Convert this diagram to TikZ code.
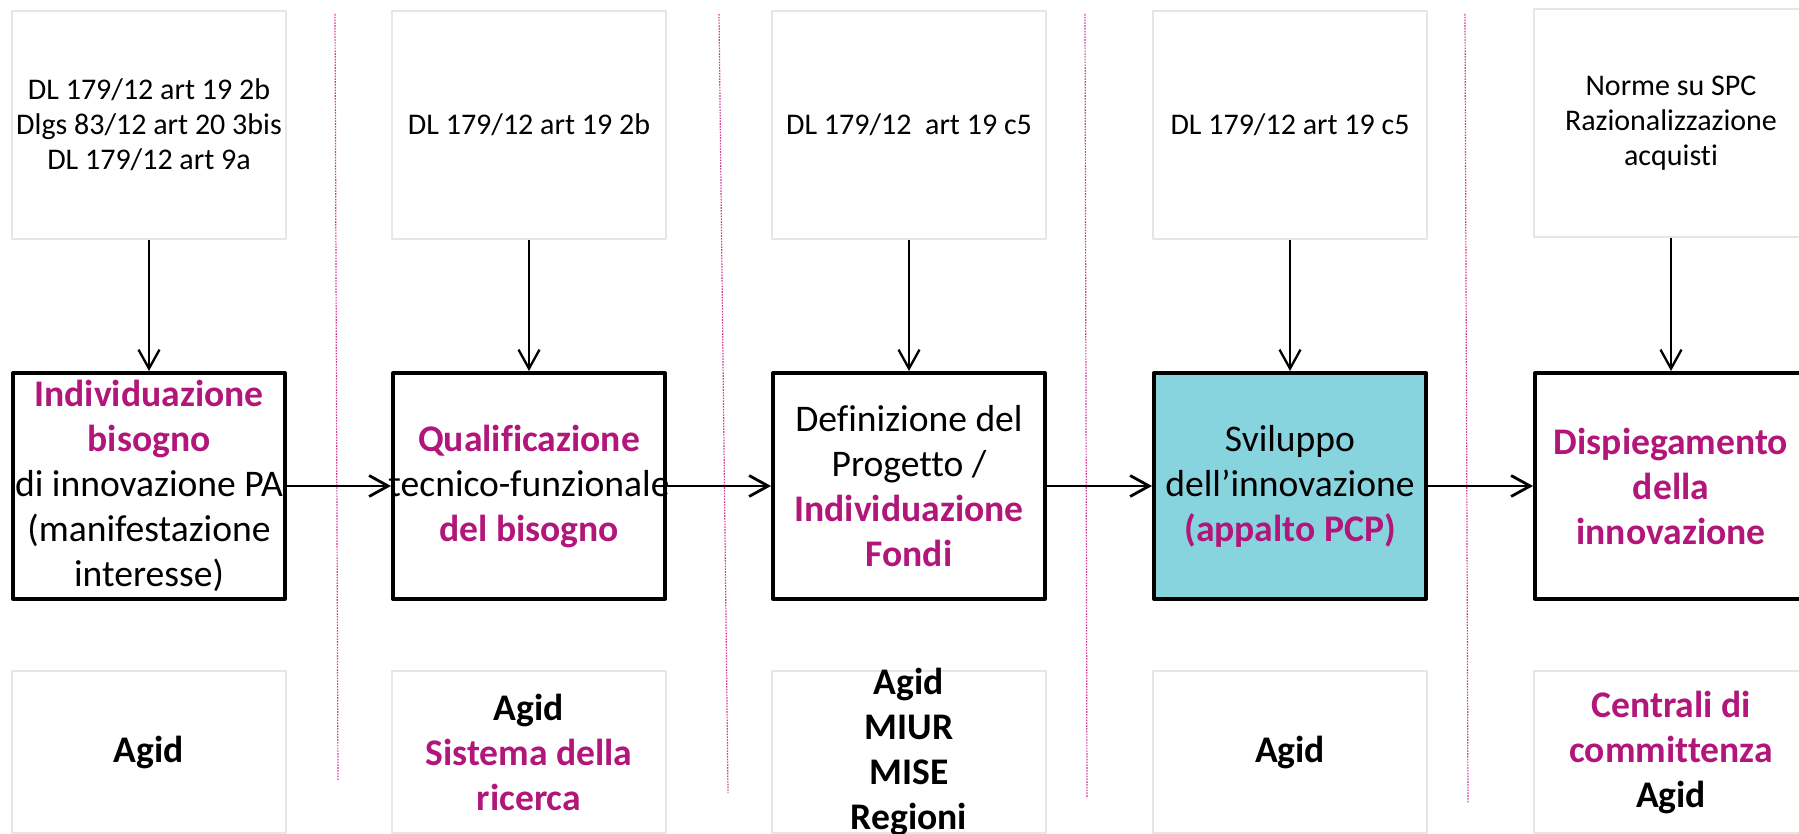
\documentclass[tikz,border=0pt]{standalone}
\usepackage{fontspec}
\setmainfont{Carlito}[Ligatures=NoCommon]
\usetikzlibrary{arrows.meta}
\definecolor{accent}{RGB}{178,22,122}
\definecolor{sky}{RGB}{135,212,222}
\definecolor{faint}{RGB}{230,230,230}
\definecolor{sepcol}{RGB}{214,60,150}
\newcommand{\evid}[1]{\textcolor{accent}{\textbf{#1}}}
\tikzset{
  normbox/.style={draw=faint, line width=0.6pt, minimum width=137pt, minimum height=114pt, inner sep=0pt},
  fasebox/.style={draw=black, line width=2pt, fill=white, minimum width=136pt, minimum height=113pt, inner sep=0pt},
  entebox/.style={draw=faint, line width=0.6pt, minimum width=137pt, minimum height=81pt, inner sep=0pt},
  smalltxt/.style={align=center, font=\fontsize{15}{17.5}\selectfont},
  bigtxt/.style={align=center, font=\fontsize{18.8}{22.5}\selectfont},
  divider/.style={draw=sepcol, line width=0.6pt, dash pattern=on 0.8pt off 0.6pt},
}
\begin{document}
\begin{tikzpicture}[x=0.5pt, y=-0.5pt, line join=round, >={Straight Barb[length=9.5pt,width=10.5pt]}]
\useasboundingbox (0,0) rectangle (1799,834);
% separatori
\foreach \xa/\xb/\yb in {335/338/780, 719/728/793, 1085/1087/798, 1465/1468/803}
  \draw[divider] (\xa,14) -- (\xb,\yb);
% norme
\node[normbox, label={[smalltxt]center:{DL 179/12 art 19 2b\\Dlgs 83/12 art 20 3bis\\DL 179/12 art 9a}}] (n1) at (149,125) {};
\node[normbox, label={[smalltxt]center:{DL 179/12 art 19 2b}}] (n2) at (529,125) {};
\node[normbox, label={[smalltxt]center:{DL 179/12\ \ art 19 c5}}] (n3) at (909,125) {};
\node[normbox, label={[smalltxt]center:{DL 179/12 art 19 c5}}] (n4) at (1290,125) {};
\node[normbox, label={[smalltxt]center:{Norme su SPC\\Razionalizzazione\\acquisti}}] (n5) at (1671,123) {};
% fasi
\node[fasebox, label={[bigtxt]center:{\evid{Individuazione}\\\evid{bisogno}\\di innovazione PA\\(manifestazione\\interesse)}}] (f1) at (149,486) {};
\node[fasebox, label={[bigtxt]center:{\evid{Qualificazione}\\tecnico-funzionale\\\evid{del bisogno}}}] (f2) at (529,486) {};
\node[fasebox, label={[bigtxt]center:{Definizione del\\Progetto /\\\evid{Individuazione}\\\evid{Fondi}}}] (f3) at (909,486) {};
\node[fasebox, fill=sky, label={[bigtxt]center:{Sviluppo\\dell’innovazione\\\evid{(appalto PCP)}}}] (f4) at (1290,486) {};
\node[fasebox, label={[bigtxt]center:{\evid{Dispiegamento}\\\evid{della}\\\evid{innovazione}}}] (f5) at (1671,486) {};
% enti
\node[entebox, label={[bigtxt]center:{\textbf{Agid}}}] (e1) at (149,752) {};
\node[entebox, label={[bigtxt]center:{\textbf{Agid}\\\evid{Sistema della}\\\evid{ricerca}}}] (e2) at (529,752) {};
\node[entebox, label={[bigtxt]center:{\textbf{Agid}\\\textbf{MIUR}\\\textbf{MISE}\\\textbf{Regioni}}}] (e3) at (909,752) {};
\node[entebox, label={[bigtxt]center:{\textbf{Agid}}}] (e4) at (1290,752) {};
\node[entebox, label={[bigtxt]center:{\evid{Centrali di}\\\evid{committenza}\\\textbf{Agid}}}] (e5) at (1671,752) {};
% frecce
\foreach \i in {1,...,5}
  \draw[->, line width=1.15pt] (n\i) -- (f\i);
\foreach \i/\j in {1/2, 2/3, 3/4, 4/5}
  \draw[->, line width=1.4pt] (f\i) -- (f\j);
\end{tikzpicture}
\end{document}
